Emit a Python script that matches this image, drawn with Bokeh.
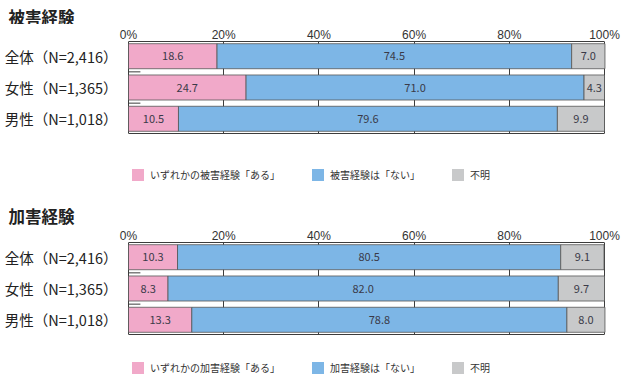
from bokeh.plotting import figure
from bokeh.layouts import column
from bokeh.models import FixedTicker, Label, Legend, LegendItem, Range1d, LinearAxis
from bokeh.core.properties import value
from bokeh.embed import file_html
from bokeh.resources import INLINE

groups = ["全体（N=2,416）", "女性（N=1,365）", "男性（N=1,018）"]
ticks = [0, 20, 40, 60, 80, 100]
tick_labels = ["0%", "20%", "40%", "60%", "80%", "100%"]

victim_title = "被害経験"
victim_series = ["いずれかの被害経験「ある」", "被害経験は「ない」", "不明"]
victim_yes = [18.6, 24.7, 10.5]
victim_no = [74.5, 71.0, 79.6]
victim_unknown = [7.0, 4.3, 9.9]

perp_title = "加害経験"
perp_series = ["いずれかの加害経験「ある」", "加害経験は「ない」", "不明"]
perp_yes = [10.3, 8.3, 13.3]
perp_no = [80.5, 82.0, 78.8]
perp_unknown = [9.1, 9.7, 8.0]

colors = ["#f1a9c9", "#7db6e6", "#c8c9ca"]
FONT = "Noto Sans CJK JP"
TICK_FONT = "Liberation Sans"
DARK = "#3c3c3c"
W = 623
PLOT_LEFT = 128    # px from figure left to the 0% line
PLOT_W = 476       # px between 0% and 100%


def blank(height):
    p = figure(width=W, height=height, output_backend="svg", toolbar_location=None,
               x_range=Range1d(0, 1), y_range=Range1d(0, 1),
               x_axis_location=None, y_axis_location=None,
               min_border=0, min_border_left=0, min_border_right=0,
               min_border_top=0, min_border_bottom=0)
    p.grid.visible = False
    p.outline_line_color = None
    p.border_fill_color = "white"
    p.background_fill_color = "white"
    return p


def title_fig(title, height, y_mid):
    p = blank(height)
    p.add_layout(Label(x=8, y=y_mid, x_units="screen", y_units="screen",
                       text=title, text_font=FONT, text_font_size="16.5px",
                       text_font_style="bold", text_baseline="middle",
                       text_color="#222222"))
    return p


def legend_fig(series, height, x0, y0):
    p = blank(height)
    items = []
    for k, s in enumerate(series):
        swatch = p.hbar(y=[0], left=[0], right=[0], height=0,
                        fill_color=colors[k], line_color=None)
        items.append(LegendItem(label=s, renderers=[swatch]))
    legend = Legend(items=items, orientation="horizontal", location=(x0, y0),
                    padding=0, margin=0, spacing=30, label_standoff=5,
                    glyph_width=15, glyph_height=15, label_height=15,
                    label_text_font=FONT, label_text_font_size="10px",
                    label_text_color="#333333",
                    border_line_color=None, background_fill_alpha=0)
    p.add_layout(legend)
    return p


def chart_fig(vals, height, top, bottom):
    n = len(groups)
    ys = [n - 1 - i for i in range(n)]
    span = ticks[-1] - ticks[0]
    xr = Range1d(ticks[0] - span * PLOT_LEFT / PLOT_W,
                 ticks[0] + span * (W - PLOT_LEFT) / PLOT_W)
    p = figure(width=W, height=height, output_backend="svg", toolbar_location=None,
               x_range=xr, y_range=Range1d(-0.47, n - 1 + 0.47),
               x_axis_location="above", y_axis_location=None,
               min_border_left=0, min_border_right=0,
               min_border_top=top, min_border_bottom=bottom)
    p.outline_line_color = None
    p.background_fill_color = "white"
    p.border_fill_color = "white"
    p.ygrid.visible = False

    xa = p.xaxis[0]
    xa.ticker = FixedTicker(ticks=ticks)
    xa.bounds = (ticks[0], ticks[-1])
    xa.major_label_overrides = {t: l for t, l in zip(ticks, tick_labels)}
    xa.major_tick_out = 0
    xa.major_tick_in = 0
    xa.minor_tick_out = 0
    xa.minor_tick_in = 0
    xa.axis_line_color = DARK
    xa.major_label_standoff = 0
    xa.major_label_text_font = TICK_FONT
    xa.major_label_text_font_size = "12px"
    xa.major_label_text_color = "#333333"

    bottom_axis = LinearAxis(ticker=FixedTicker(ticks=[]), bounds=(ticks[0], ticks[-1]),
                             axis_line_color=DARK, major_tick_out=0, major_tick_in=0,
                             minor_tick_out=0, minor_tick_in=0, major_label_standoff=0)
    p.add_layout(bottom_axis, "below")

    p.xgrid.ticker = FixedTicker(ticks=ticks)
    p.xgrid.grid_line_color = DARK
    p.xgrid.grid_line_width = 1

    # group labels to the left of the 0% line
    p.text(x=[ticks[0]] * n, y=ys, text=groups, x_offset=-11,
           text_align="right", text_baseline="middle", text_font=value(FONT),
           text_font_size="14.5px", text_color="#222222")

    # separator stubs between groups at the left edge
    p.segment(x0=[ticks[0]] * (n - 1), x1=[ticks[0] + 2.5] * (n - 1),
              y0=[y + 0.5 for y in ys[1:]], y1=[y + 0.5 for y in ys[1:]],
              line_color=DARK, line_width=1)

    lefts = [0.0] * n
    for k, v in enumerate(vals):
        rights = [l + x for l, x in zip(lefts, v)]
        p.hbar(y=ys, left=lefts, right=rights, height=0.8,
               fill_color=colors[k], line_color="#555555", line_width=0.8)
        p.text(x=[(l + r) / 2 for l, r in zip(lefts, rights)], y=ys,
               text=[f"{x:.1f}" for x in v], text_align="center",
               text_baseline="middle", text_font=value(FONT),
               text_font_size="11px", text_color="#3a3a48")
        lefts = rights
    return p


t1 = title_fig(victim_title, 24, 8)
c1 = chart_fig([victim_yes, victim_no, victim_unknown], 114, 13, 5)
l1 = legend_fig(victim_series, 51, 130, 7)

t2 = title_fig(perp_title, 36, 10)
c2 = chart_fig([perp_yes, perp_no, perp_unknown], 114, 13, 5)
l2 = legend_fig(perp_series, 40, 130, 4)

layout = column(t1, c1, l1, t2, c2, l2, spacing=0)
open("out.html", "w").write(file_html(layout, INLINE))
